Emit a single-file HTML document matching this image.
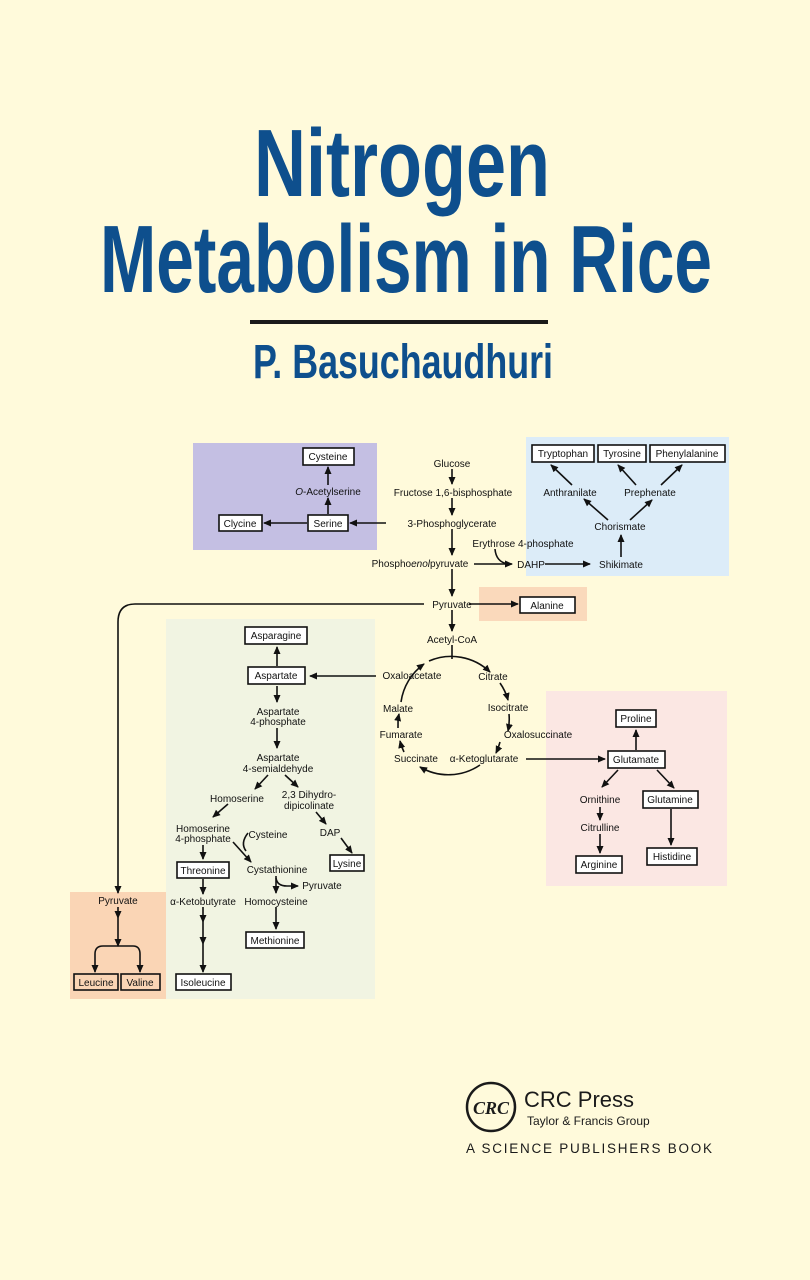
<!DOCTYPE html>
<html><head><meta charset="utf-8"><style>
html,body{margin:0;padding:0;background:#fffadb;}
svg{display:block}
</style></head><body>
<svg width="810" height="1280" viewBox="0 0 810 1280" xmlns="http://www.w3.org/2000/svg">
<defs>
<marker id="a" markerWidth="8" markerHeight="8" refX="7" refY="4" orient="auto" markerUnits="userSpaceOnUse">
<path d="M0,0.5 L8,4 L0,7.5 Z" fill="#111"/></marker>
</defs>
<rect width="810" height="1280" fill="#fffadb"/>
<g font-family="Liberation Sans, sans-serif" font-weight="bold" fill="#0e4f8d" text-anchor="middle">
<text x="402" y="196" font-size="96" textLength="296" lengthAdjust="spacingAndGlyphs">Nitrogen</text>
<text x="406" y="292" font-size="96" textLength="612" lengthAdjust="spacingAndGlyphs">Metabolism in Rice</text>
<text x="403" y="378" font-size="48" textLength="300" lengthAdjust="spacingAndGlyphs">P. Basuchaudhuri</text>
</g>
<rect x="250" y="320" width="298" height="4" fill="#1a1a1a"/>

<rect x="193" y="443" width="184" height="107" fill="#c4bfe3"/>
<rect x="526" y="437" width="203" height="139" fill="#dcecf8"/>
<rect x="479" y="587" width="108" height="34" fill="#fad9bb"/>
<rect x="166" y="619" width="209" height="380" fill="#f1f4e2"/>
<rect x="546" y="691" width="181" height="195" fill="#fbe7e3"/>
<rect x="70" y="892" width="96" height="107" fill="#fad5b5"/>

<g stroke="#111" stroke-width="1.6" fill="none">
<line x1="452" y1="469" x2="452" y2="484" marker-end="url(#a)"/>
<line x1="452" y1="498" x2="452" y2="515" marker-end="url(#a)"/>
<line x1="452" y1="529" x2="452" y2="555" marker-end="url(#a)"/>
<line x1="452" y1="569" x2="452" y2="596" marker-end="url(#a)"/>
<line x1="452" y1="610" x2="452" y2="631" marker-end="url(#a)"/>
<line x1="452" y1="645" x2="452" y2="659"/>
<line x1="386" y1="523" x2="350" y2="523" marker-end="url(#a)"/>
<line x1="307" y1="523" x2="264" y2="523" marker-end="url(#a)"/>
<line x1="328" y1="514" x2="328" y2="498" marker-end="url(#a)"/>
<line x1="328" y1="485" x2="328" y2="467" marker-end="url(#a)"/>
<line x1="474" y1="564" x2="512" y2="564" marker-end="url(#a)"/>
<path d="M495,549 Q496,562 508,564"/>
<line x1="545" y1="564" x2="590" y2="564" marker-end="url(#a)"/>
<line x1="621" y1="557" x2="621" y2="535" marker-end="url(#a)"/>
<line x1="608" y1="520" x2="584" y2="499" marker-end="url(#a)"/>
<line x1="630" y1="520" x2="652" y2="500" marker-end="url(#a)"/>
<line x1="572" y1="485" x2="551" y2="465" marker-end="url(#a)"/>
<line x1="636" y1="485" x2="618" y2="465" marker-end="url(#a)"/>
<line x1="661" y1="485" x2="682" y2="465" marker-end="url(#a)"/>
<line x1="469" y1="604" x2="518" y2="604" marker-end="url(#a)"/>
<path d="M424,604 L135,604 Q118,604 118,622 L118,893" marker-end="url(#a)"/>
<line x1="118" y1="907" x2="118" y2="918" marker-end="url(#a)"/>
<line x1="118" y1="918" x2="118" y2="946" marker-end="url(#a)"/>
<path d="M118,946 L103,946 Q95,946 95,954 L95,972" marker-end="url(#a)"/>
<path d="M118,946 L133,946 Q140,946 140,954 L140,972" marker-end="url(#a)"/>
<path d="M429,661 A56,56 0 0 1 490,672" marker-end="url(#a)"/>
<path d="M500,683 A56,56 0 0 1 508,700" marker-end="url(#a)"/>
<path d="M509,714 A56,56 0 0 1 508,731" marker-end="url(#a)"/>
<path d="M500,742 A56,56 0 0 1 496,753" marker-end="url(#a)"/>
<path d="M480,765 A56,56 0 0 1 420,767" marker-end="url(#a)"/>
<path d="M404,752 A56,56 0 0 1 400,741" marker-end="url(#a)"/>
<path d="M398,728 A56,56 0 0 1 399,714" marker-end="url(#a)"/>
<path d="M401,702 A56,56 0 0 1 424,664" marker-end="url(#a)"/>
<line x1="376" y1="676" x2="310" y2="676" marker-end="url(#a)"/>
<line x1="526" y1="759" x2="605" y2="759" marker-end="url(#a)"/>
<line x1="636" y1="750" x2="636" y2="730" marker-end="url(#a)"/>
<line x1="618" y1="770" x2="602" y2="787" marker-end="url(#a)"/>
<line x1="657" y1="770" x2="674" y2="788" marker-end="url(#a)"/>
<line x1="600" y1="807" x2="600" y2="820" marker-end="url(#a)"/>
<line x1="600" y1="834" x2="600" y2="853" marker-end="url(#a)"/>
<line x1="671" y1="809" x2="671" y2="845" marker-end="url(#a)"/>
<line x1="277" y1="666" x2="277" y2="647" marker-end="url(#a)"/>
<line x1="277" y1="686" x2="277" y2="702" marker-end="url(#a)"/>
<line x1="277" y1="728" x2="277" y2="748" marker-end="url(#a)"/>
<line x1="268" y1="775" x2="255" y2="789" marker-end="url(#a)"/>
<line x1="285" y1="775" x2="298" y2="787" marker-end="url(#a)"/>
<line x1="316" y1="812" x2="326" y2="824" marker-end="url(#a)"/>
<line x1="341" y1="838" x2="352" y2="853" marker-end="url(#a)"/>
<line x1="228" y1="804" x2="213" y2="817" marker-end="url(#a)"/>
<line x1="203" y1="845" x2="203" y2="859" marker-end="url(#a)"/>
<line x1="233" y1="842" x2="251" y2="862" marker-end="url(#a)"/>
<path d="M248,833 Q240,843 246,851"/>
<line x1="203" y1="879" x2="203" y2="894" marker-end="url(#a)"/>
<line x1="203" y1="907" x2="203" y2="922" marker-end="url(#a)"/>
<line x1="203" y1="922" x2="203" y2="944" marker-end="url(#a)"/>
<line x1="203" y1="944" x2="203" y2="972" marker-end="url(#a)"/>
<line x1="276" y1="876" x2="276" y2="893" marker-end="url(#a)"/>
<path d="M276,878 Q277,886 287,886 L298,886" marker-end="url(#a)"/>
<line x1="276" y1="907" x2="276" y2="929" marker-end="url(#a)"/>
</g>

<g fill="#fff" stroke="#111" stroke-width="1.6">
<rect x="532" y="445" width="62" height="17"/>
<rect x="598" y="445" width="48" height="17"/>
<rect x="650" y="445" width="75" height="17"/>
<rect x="303" y="448" width="51" height="17"/>
<rect x="308" y="515" width="40" height="16"/>
<rect x="219" y="515" width="43" height="16"/>
<rect x="520" y="597" width="55" height="16"/>
<rect x="245" y="627" width="62" height="17"/>
<rect x="248" y="667" width="57" height="17"/>
<rect x="608" y="751" width="57" height="17"/>
<rect x="616" y="710" width="40" height="17"/>
<rect x="643" y="791" width="55" height="17"/>
<rect x="576" y="856" width="46" height="17"/>
<rect x="647" y="848" width="50" height="17"/>
<rect x="177" y="862" width="52" height="16"/>
<rect x="330" y="855" width="34" height="16"/>
<rect x="246" y="932" width="58" height="16"/>
<rect x="176" y="974" width="55" height="16"/>
<rect x="74" y="974" width="44" height="16" fill="#fad5b5"/>
<rect x="121" y="974" width="39" height="16" fill="#fad5b5"/>
</g>

<g font-family="Liberation Sans, sans-serif" font-size="10" fill="#111" text-anchor="middle">
<text x="452" y="467">Glucose</text>
<text x="453" y="496">Fructose 1,6-bisphosphate</text>
<text x="452" y="527">3-Phosphoglycerate</text>
<text x="420" y="567">Phospho<tspan font-style="italic">enol</tspan>pyruvate</text>
<text x="523" y="547">Erythrose 4-phosphate</text>
<text x="531" y="568">DAHP</text>
<text x="621" y="568">Shikimate</text>
<text x="620" y="530">Chorismate</text>
<text x="570" y="496">Anthranilate</text>
<text x="650" y="496">Prephenate</text>
<text x="563" y="457">Tryptophan</text>
<text x="622" y="457">Tyrosine</text>
<text x="687" y="457">Phenylalanine</text>
<text x="328" y="460">Cysteine</text>
<text x="328" y="495"><tspan font-style="italic">O</tspan>-Acetylserine</text>
<text x="328" y="527">Serine</text>
<text x="240" y="527">Clycine</text>
<text x="452" y="608">Pyruvate</text>
<text x="547" y="609">Alanine</text>
<text x="452" y="643">Acetyl-CoA</text>
<text x="412" y="679">Oxaloacetate</text>
<text x="493" y="680">Citrate</text>
<text x="508" y="711">Isocitrate</text>
<text x="538" y="738">Oxalosuccinate</text>
<text x="484" y="762">α-Ketoglutarate</text>
<text x="416" y="762">Succinate</text>
<text x="401" y="738">Fumarate</text>
<text x="398" y="712">Malate</text>
<text x="636" y="763">Glutamate</text>
<text x="636" y="722">Proline</text>
<text x="600" y="803">Ornithine</text>
<text x="670" y="803">Glutamine</text>
<text x="600" y="831">Citrulline</text>
<text x="599" y="868">Arginine</text>
<text x="672" y="860">Histidine</text>
<text x="276" y="639">Asparagine</text>
<text x="276" y="679">Aspartate</text>
<text x="278" y="715">Aspartate</text>
<text x="278" y="725">4-phosphate</text>
<text x="278" y="761">Aspartate</text>
<text x="278" y="772">4-semialdehyde</text>
<text x="237" y="802">Homoserine</text>
<text x="309" y="798">2,3 Dihydro-</text>
<text x="309" y="809">dipicolinate</text>
<text x="203" y="832">Homoserine</text>
<text x="203" y="842">4-phosphate</text>
<text x="268" y="838">Cysteine</text>
<text x="330" y="836">DAP</text>
<text x="203" y="874">Threonine</text>
<text x="277" y="873">Cystathionine</text>
<text x="347" y="867">Lysine</text>
<text x="322" y="889">Pyruvate</text>
<text x="203" y="905">α-Ketobutyrate</text>
<text x="276" y="905">Homocysteine</text>
<text x="275" y="944">Methionine</text>
<text x="203" y="986">Isoleucine</text>
<text x="118" y="904">Pyruvate</text>
<text x="96" y="986">Leucine</text>
<text x="140" y="986">Valine</text>
</g>

<circle cx="491" cy="1107" r="24" fill="none" stroke="#1a1a1a" stroke-width="2.5"/>
<text x="491" y="1114" font-family="Liberation Serif, serif" font-style="italic" font-weight="bold" font-size="18" text-anchor="middle" fill="#1a1a1a">CRC</text>
<text x="524" y="1107" font-family="Liberation Sans, sans-serif" font-size="22" fill="#1a1a1a">CRC Press</text>
<text x="527" y="1125" font-family="Liberation Sans, sans-serif" font-size="12" fill="#1a1a1a">Taylor &amp; Francis Group</text>
<text x="466" y="1153" font-family="Liberation Sans, sans-serif" font-size="13.5" fill="#1a1a1a" textLength="246" lengthAdjust="spacing">A SCIENCE PUBLISHERS BOOK</text>
</svg>
</body></html>
